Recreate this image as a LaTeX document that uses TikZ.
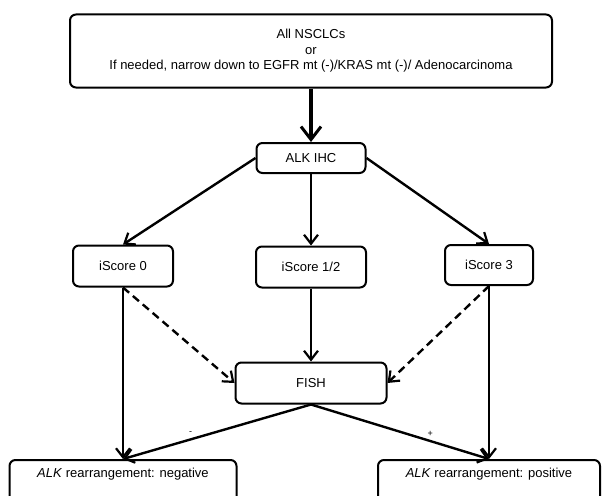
\documentclass[tikz,border=0pt]{standalone}
\usepackage{fontspec}
\setmainfont{Liberation Sans}
\usetikzlibrary{arrows.meta}

\tikzset{
    stepbox/.style={draw, line width=2pt, rounded corners=6pt, align=center, inner sep=3pt, font=\fontsize{13}{15.5}\selectfont},
    flow/.style={-{Straight Barb[length=9pt, width=14pt, line width=2.2pt]}, line width=2.4pt},
    maybe/.style={flow, dash pattern=on 8pt off 5pt},
    bigflow/.style={-{Straight Barb[length=13pt, width=20pt, line width=3pt]}, line width=4.5pt},
}

\begin{document}
\begin{tikzpicture}[x=1pt, y=-1pt]
    \useasboundingbox (0,0) rectangle (602,495);
    \clip (0,0) rectangle (602,495);

    \node[stepbox, minimum width=482, minimum height=73] (allNSCLC) at (311,51)
       {All NSCLCs\\or\\If needed, narrow down to EGFR mt (-)/KRAS mt (-)/ Adenocarcinoma};

    \node[stepbox, minimum width=109, minimum height=30] (alkIHC) at (311,158) {ALK IHC};

    \node[stepbox, minimum width=100, minimum height=41] (score0) at (123,266) {iScore 0};
    \node[stepbox, minimum width=110, minimum height=41] (score12) at (311,267) {iScore 1/2};
    \node[stepbox, minimum width=88, minimum height=40] (score3) at (489,265) {iScore 3};

    \node[stepbox, minimum width=151, minimum height=41] (fish) at (311,383) {FISH};

    \node[stepbox, anchor=north, minimum width=227, inner ysep=8pt, text depth=30pt] (negative) at (123,459)
       {\textit{ALK} rearrangement: negative};
    \node[stepbox, anchor=north, minimum width=222, inner ysep=8pt, text depth=30pt] (positive) at (489,459)
       {\textit{ALK} rearrangement: positive};

    %Arrows
    \draw[bigflow] (allNSCLC) -- (alkIHC);

    \draw[flow] (alkIHC.west) -- (score0.north);
    \draw[flow] (alkIHC) -- (score12);
    \draw[flow] (alkIHC.east) -- (score3.north);

    \draw[flow] (score0) -- (negative);
    \draw[maybe] (score0.south) -- (fish.west);
    \draw[flow] (score12) -- (fish);
    \draw[maybe] (score3.south) -- (fish.east);
    \draw[flow] (score3) -- (positive);

    \draw[flow] (fish.south) -- (negative.north)
       node[pos=0.64, above, font=\small] {-};
    \draw[flow] (fish.south) -- (positive.north)
       node[pos=0.67, above, font=\small] {+};
\end{tikzpicture}
\end{document}
